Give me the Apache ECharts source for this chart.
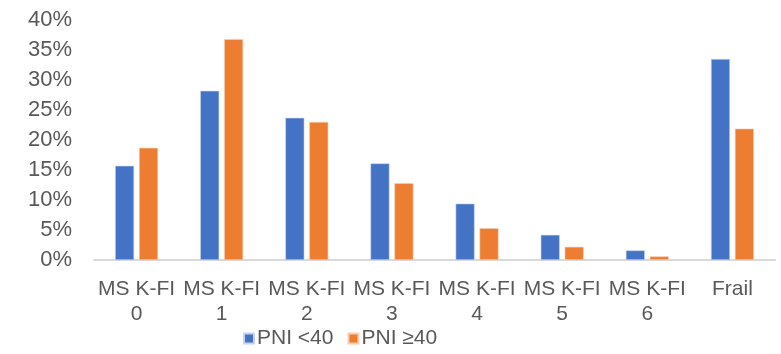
<!DOCTYPE html>
<html>
<head>
<meta charset="utf-8">
<script src="https://cdn.jsdelivr.net/npm/echarts@6/dist/echarts.min.js"></script>
<style>
  html, body { margin: 0; padding: 0; background: #fff; }
  #chart { width: 781px; height: 354px; }
</style>
</head>
<body>
<div id="chart"></div>
<script>
// Share of patients in each frailty group, split by PNI level
const categories = ['MS K-FI\n0', 'MS K-FI\n1', 'MS K-FI\n2', 'MS K-FI\n3', 'MS K-FI\n4', 'MS K-FI\n5', 'MS K-FI\n6', 'Frail'];
const pniLow = [15.7, 28.2, 23.7, 16.1, 9.4, 4.2, 1.6, 33.5];   // PNI <40
const pniHigh = [18.7, 36.8, 23.0, 12.8, 5.3, 2.2, 0.6, 21.9];  // PNI ≥40
const yTicks = { min: 0, max: 40, interval: 5 };

const fontFamily = '"Liberation Sans", Arial, sans-serif';
const textColor = '#595959';

const chart = echarts.init(document.getElementById('chart'));
chart.setOption({
  animation: false,
  grid: { left: 94, right: 6, top: 20, bottom: 94 },
  legend: {
    bottom: 0,
    left: 238,
    itemWidth: 10,
    itemHeight: 10,
    itemGap: 14,
    icon: 'rect',
    textStyle: { color: textColor, fontSize: 21, fontFamily: fontFamily, padding: [0, 0, 0, -2] },
    data: ['PNI <40', 'PNI ≥40']
  },
  xAxis: {
    type: 'category',
    data: categories,
    axisLine: { lineStyle: { color: '#d9d9d9', width: 2 } },
    axisTick: { show: false },
    axisLabel: {
      color: textColor,
      fontSize: 21,
      fontFamily: fontFamily,
      lineHeight: 25,
      margin: 17,
      interval: 0
    }
  },
  yAxis: {
    type: 'value',
    min: yTicks.min,
    max: yTicks.max,
    interval: yTicks.interval,
    splitLine: { show: false },
    axisLine: { show: false },
    axisTick: { show: false },
    axisLabel: {
      color: textColor,
      fontSize: 22,
      fontFamily: fontFamily,
      margin: 22,
      formatter: v => v + '%'
    }
  },
  series: [
    {
      name: 'PNI <40',
      type: 'bar',
      data: pniLow,
      barWidth: 19,
      barGap: '26%',
      itemStyle: { color: '#4472c4', borderColor: '#c7d4ee', borderWidth: 0.6 }
    },
    {
      name: 'PNI ≥40',
      type: 'bar',
      data: pniHigh,
      barWidth: 19,
      barGap: '26%',
      itemStyle: { color: '#ed7d31', borderColor: '#f8cfb3', borderWidth: 0.6 }
    }
  ]
});
</script>
</body>
</html>
